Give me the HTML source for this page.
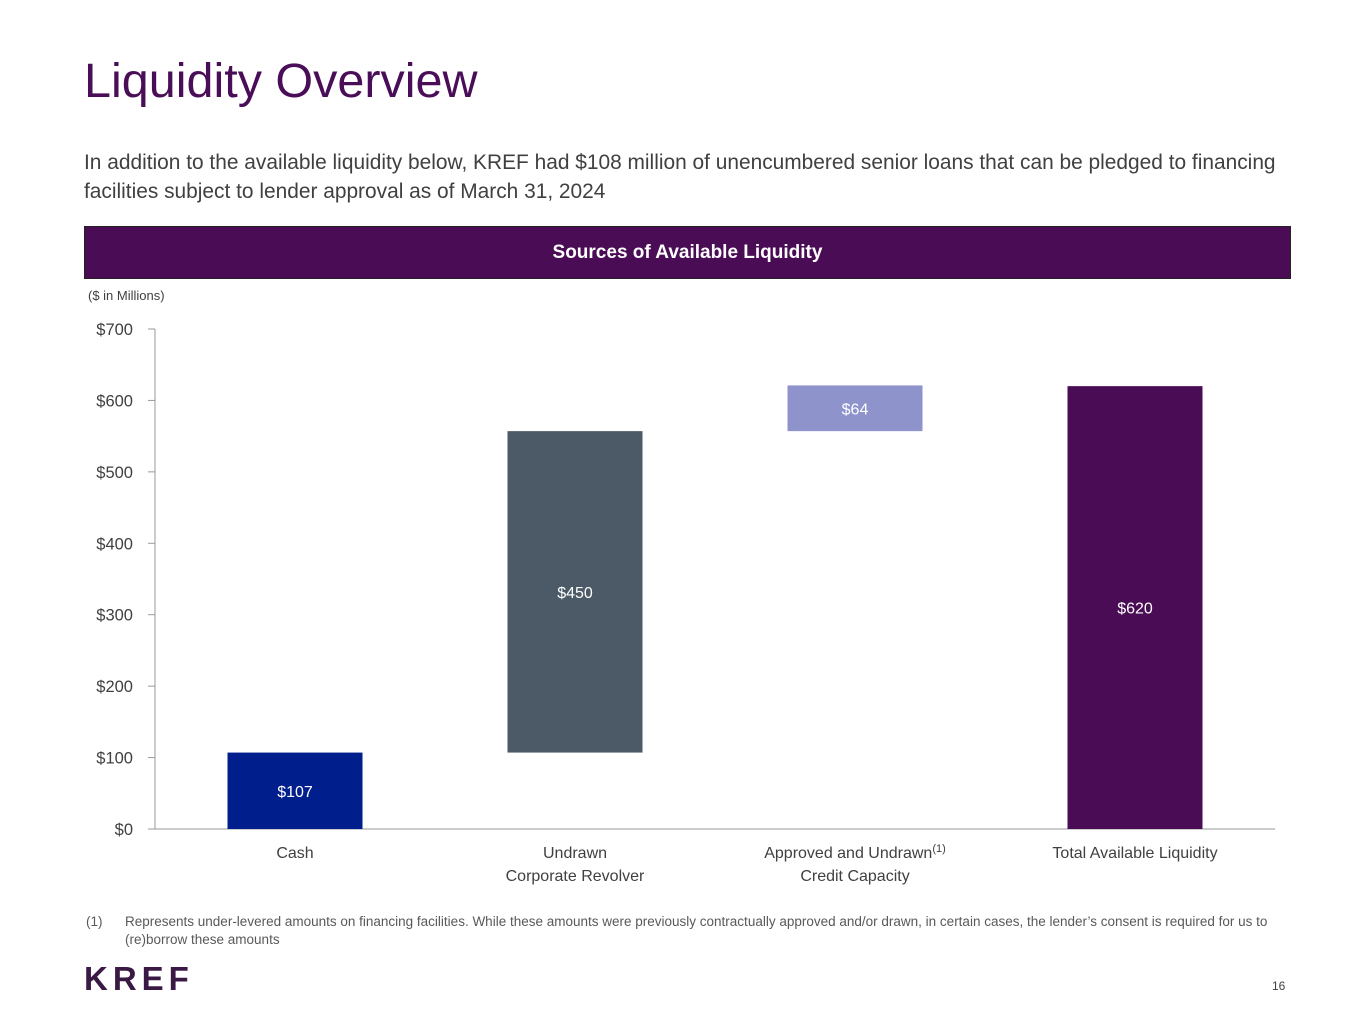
<!DOCTYPE html>
<html><head><meta charset="utf-8"><style>
body{margin:0;width:1365px;height:1024px;background:#fff;font-family:"Liberation Sans",sans-serif;position:relative;overflow:hidden}
.abs{position:absolute}
</style></head><body>
<div class="abs" style="left:84px;top:53px;font-size:48.5px;color:#4a0d57">Liquidity Overview</div>
<div class="abs" style="left:84px;top:148px;font-size:20.9px;line-height:29px;color:#404040;width:1210px">In addition to the available liquidity below, KREF had $108 million of unencumbered senior loans that can be pledged to financing facilities subject to lender approval as of March 31, 2024</div>
<div class="abs" style="left:84px;top:226px;width:1205px;height:51px;background:#4a0d55;border:1px solid #222;color:#fff;font-weight:bold;font-size:19px;line-height:51px;text-align:center">Sources of Available Liquidity</div>
<div class="abs" style="left:88px;top:288px;font-size:13px;color:#404040">($ in Millions)</div>
<svg class="abs" style="left:0;top:0" width="1365" height="1024" id="chart"></svg>
<div class="abs" style="left:86px;top:913px;font-size:13.5px;color:#595959;line-height:18px;width:1200px"><span style="position:absolute;left:0">(1)</span><div style="margin-left:39px">Represents under-levered amounts on financing facilities. While these amounts were previously contractually approved and/or drawn, in certain cases, the lender’s consent is required for us to (re)borrow these amounts</div></div>
<div class="abs" style="left:84px;top:960px;font-size:33px;font-weight:bold;color:#3a1a45;letter-spacing:5px">KREF</div>
<div class="abs" style="left:1272px;top:979px;font-size:12px;color:#404040">16</div>
<script>
const categories=["Cash","Undrawn|Corporate Revolver","Approved and Undrawn(1)|Credit Capacity","Total Available Liquidity"];
const values=[107,450,64,620];
const labels=["$107","$450","$64","$620"];
const isTotal=[false,false,false,true];
const ticks=[0,100,200,300,400,500,600,700];
const colors=["#001e8c","#4b5a66","#8f93cb","#4a0d55"];
const svg=document.getElementById('chart');const NS="http://www.w3.org/2000/svg";
const x0=155,x1=1275,y0=829,yTop=329,vmax=700;
const y=v=>y0-(v/vmax)*(y0-yTop);
const band=(x1-x0)/categories.length;const bw=135;
function mk(t,a){const e=document.createElementNS(NS,t);for(const k in a)e.setAttribute(k,a[k]);svg.appendChild(e);return e;}
let ax=mk('line',{x1:x0,y1:yTop,x2:x0,y2:y0,stroke:'#999'});


let bx=mk('line',{x1:x0,y1:y0,x2:x1,y2:y0,stroke:'#999'});


ticks.forEach(t=>{const l=mk('line',{x1:x0-7,x2:x0,y1:y(t),y2:y(t),stroke:'#999'});


const tx=mk('text',{x:x0-22,y:y(t)+6,'text-anchor':'end','font-size':16.5,fill:'#404040','font-family':'Liberation Sans'});tx.textContent='$'+t;

});
let cum=0;
values.forEach((v,i)=>{const cx=x0+band*(i+0.5);let lo,hi;if(isTotal[i]){lo=0;hi=v;}else{lo=cum;hi=cum+v;cum+=v;}
const r=mk('rect',{x:cx-bw/2,y:y(hi),width:bw,height:y(lo)-y(hi),fill:colors[i]});


const t=mk('text',{x:cx,y:(y(lo)+y(hi))/2+6,'text-anchor':'middle','font-size':16,fill:'#fff','font-family':'Liberation Sans'});t.textContent=labels[i];


categories[i].split('|').forEach((ln,j)=>{const c=mk('text',{x:cx,y:858+j*23,'text-anchor':'middle','font-size':16,fill:'#404040','font-family':'Liberation Sans'});


if(ln.endsWith('(1)')){c.textContent=ln.slice(0,-3);const s=document.createElementNS(NS,'tspan');s.setAttribute('font-size',11);s.setAttribute('dy',-6);s.textContent='(1)';c.appendChild(s);}else c.textContent=ln;});});
</script>
</body></html>
